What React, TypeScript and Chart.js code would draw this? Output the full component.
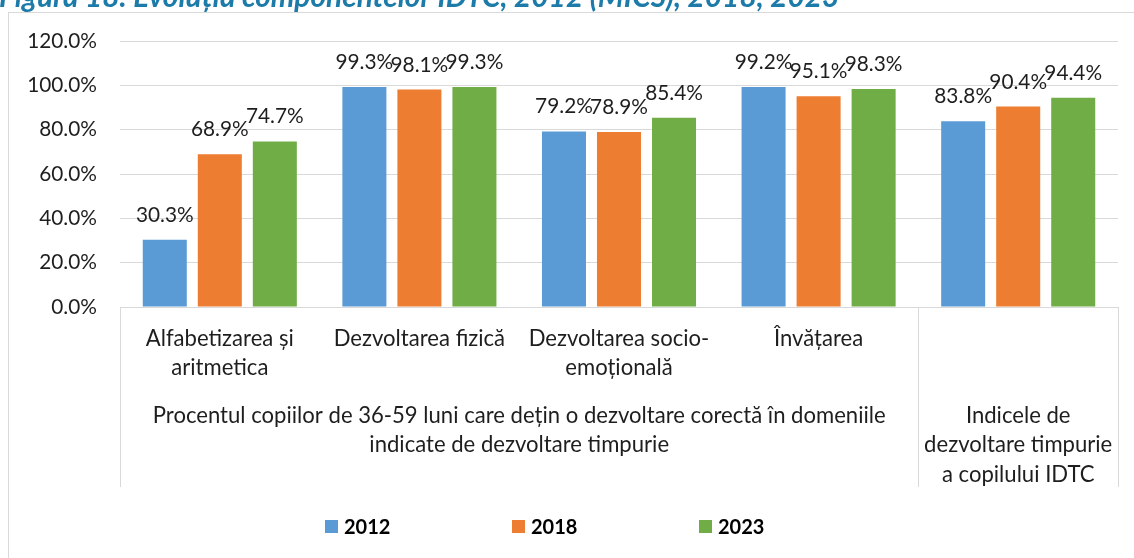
import React, { useEffect, useRef } from "react";
import { Chart, registerables } from "chart.js";

Chart.register(...registerables);

const TITLE = "Figura 18. Evoluția componentelor IDTC, 2012 (MICS), 2018, 2023";

const categories: (string | string[])[] = [
  ["Alfabetizarea și", "aritmetica"],
  "Dezvoltarea fizică",
  ["Dezvoltarea socio-", "emoțională"],
  "Învățarea",
  "",
];

const seriesNames = ["2012", "2018", "2023"];
const values2012 = [30.3, 99.3, 79.2, 99.2, 83.8];
const values2018 = [68.9, 98.1, 78.9, 95.1, 90.4];
const values2023 = [74.7, 99.3, 85.4, 98.3, 94.4];
const seriesColors = ["#5B9BD5", "#ED7D31", "#70AD47"];

const yMin = 0;
const yMax = 120;
const yStep = 20;

// second-level grouping of the category axis
const groupSpans = [4, 1];
const groupLabels: string[][] = [
  [
    "Procentul copiilor de 36-59 luni care dețin o dezvoltare corectă în domeniile",
    "indicate de dezvoltare timpurie",
  ],
  ["Indicele de", "dezvoltare timpurie", "a copilului IDTC"],
];

const FONT = "Lato";
const TEXT = "#1e1e1e";
const GRID = "#d9d9d9";
const LABEL_SIZE = 22.1;
const NUM_SIZE = 20.8;

function groupCenters(): number[] {
  const out: number[] = [];
  let start = 0;
  for (const n of groupSpans) {
    out.push(start + (n - 1) / 2);
    start += n;
  }
  return out;
}
function groupBounds(): number[] {
  const out: number[] = [-0.5];
  let start = 0;
  for (const n of groupSpans) {
    start += n;
    out.push(start - 0.5);
  }
  return out;
}

const framePlugin = {
  id: "frameTitle",
  beforeDraw(chart: any) {
    const ctx = chart.ctx;
    ctx.save();
    ctx.fillStyle = "#ffffff";
    ctx.fillRect(0, 0, chart.width, chart.height);
    ctx.strokeStyle = GRID;
    ctx.lineWidth = 1;
    ctx.strokeRect(8.5, 12.5, 1140, 570);
    ctx.fillStyle = "#1C7BA8";
    ctx.font = `italic bold 29.8px ${FONT}`;
    ctx.textBaseline = "alphabetic";
    ctx.textAlign = "left";
    ctx.fillText(TITLE, -1, 7);
    ctx.restore();
  },
};

const dataLabelPlugin = {
  id: "dataLabels",
  afterDatasetsDraw(chart: any) {
    const ctx = chart.ctx;
    ctx.save();
    ctx.font = `${NUM_SIZE}px ${FONT}`;
    ctx.fillStyle = TEXT;
    ctx.textAlign = "center";
    ctx.textBaseline = "alphabetic";
    chart.data.datasets.forEach((ds: any, i: number) => {
      const meta = chart.getDatasetMeta(i);
      meta.data.forEach((el: any, j: number) => {
        const v = ds.data[j];
        ctx.fillText(v.toFixed(1) + "%", el.x, el.y - 18);
      });
    });
    ctx.restore();
  },
};

const separatorPlugin = {
  id: "separators",
  afterDraw(chart: any) {
    const ctx = chart.ctx;
    const x2 = chart.scales.x2;
    const top = chart.chartArea.bottom;
    const bottom = x2.bottom;
    ctx.save();
    ctx.strokeStyle = GRID;
    ctx.lineWidth = 1;
    groupBounds().forEach((b) => {
      const px = Math.round(x2.getPixelForValue(b)) + 0.5;
      ctx.beginPath();
      ctx.moveTo(px, top);
      ctx.lineTo(px, bottom);
      ctx.stroke();
    });
    ctx.restore();
  },
};

const legendPlugin = {
  id: "customLegend",
  afterDraw(chart: any) {
    const ctx = chart.ctx;
    const startX = 325;
    const gap = 187;
    const cy = 526.5;
    ctx.save();
    ctx.font = `bold 20px ${FONT}`;
    ctx.textAlign = "left";
    ctx.textBaseline = "middle";
    chart.data.datasets.forEach((ds: any, i: number) => {
      const x = startX + i * gap;
      ctx.fillStyle = ds.backgroundColor;
      ctx.fillRect(x, cy - 6.5, 13, 13);
      ctx.fillStyle = "#000000";
      ctx.fillText(ds.label, x + 19, cy + 1);
    });
    ctx.restore();
  },
};

export default function App() {
  const ref = useRef<HTMLCanvasElement | null>(null);

  useEffect(() => {
    if (!ref.current) return;
    const centers = groupCenters();
    const bounds = groupBounds();
    const seriesValues = [values2012, values2018, values2023];
    const chart = new Chart(ref.current, {
      type: "bar",
      data: {
        labels: categories as any,
        datasets: seriesNames.map((name, i) => ({
          label: name,
          data: seriesValues[i],
          backgroundColor: seriesColors[i],
          borderWidth: 0,
          barPercentage: 0.8,
          categoryPercentage: 0.827,
        })),
      },
      options: {
        responsive: false,
        animation: false,
        devicePixelRatio: 1,
        layout: { padding: { left: 0, top: 41, right: 16, bottom: 71 } },
        plugins: {
          legend: { display: false },
          title: { display: false },
          tooltip: { enabled: false },
        },
        scales: {
          x: {
            type: "category",
            position: "bottom",
            weight: 0,
            grid: { display: false, drawTicks: false },
            border: { display: true, color: GRID, width: 1 },
            ticks: {
              autoSkip: false,
              maxRotation: 0,
              minRotation: 0,
              padding: 17,
              color: TEXT,
              font: { family: FONT, size: LABEL_SIZE, lineHeight: "29px" },
            },
            afterFit(s: any) {
              s.height = 88;
            },
          },
          x2: {
            type: "linear",
            position: "bottom",
            weight: 1,
            offset: false,
            min: bounds[0],
            max: bounds[bounds.length - 1],
            grid: { display: false, drawTicks: false, offset: false },
            border: { display: false },
            afterBuildTicks(s: any) {
              s.ticks = centers.map((v) => ({ value: v }));
            },
            ticks: {
              autoSkip: false,
              maxRotation: 0,
              minRotation: 0,
              padding: 6,
              color: TEXT,
              font: { family: FONT, size: LABEL_SIZE, lineHeight: "29.5px" },
              callback: (_v: any, idx: number) => groupLabels[idx],
            },
            afterFit(s: any) {
              s.height = 92;
            },
          },
          y: {
            min: yMin,
            max: yMax,
            grid: { color: GRID, lineWidth: 1, drawTicks: false },
            border: { display: false },
            ticks: {
              stepSize: yStep,
              padding: 23,
              color: TEXT,
              font: { family: FONT, size: NUM_SIZE },
              callback: (v: any) => Number(v).toFixed(1) + "%",
            },
            afterFit(s: any) {
              s.width = 120;
            },
          },
        },
      },
      plugins: [framePlugin, dataLabelPlugin, separatorPlugin, legendPlugin],
    });
    return () => chart.destroy();
  }, []);

  return (
    <div style={{ position: "absolute", left: 0, top: 0, width: 1134, height: 558, overflow: "hidden" }}>
      <canvas ref={ref} width={1134} height={558} style={{ width: 1134, height: 558, display: "block" }} />
    </div>
  );
}
